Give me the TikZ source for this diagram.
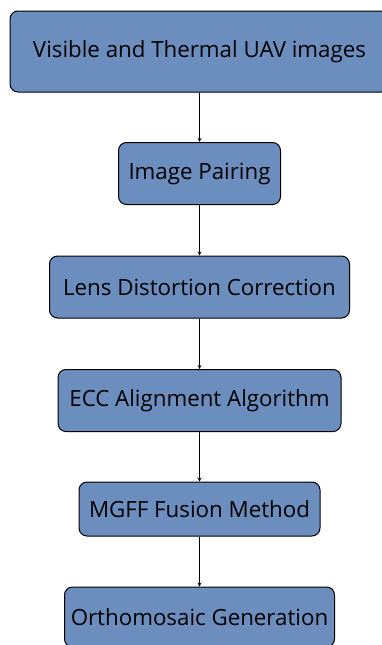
\documentclass[tikz,border=0pt]{standalone}
\usepackage{fontspec}
\setmainfont{Open Sans}
\usetikzlibrary{shapes.geometric, arrows}
\definecolor{stageblue}{HTML}{6C8EBF}
\tikzstyle{stage} = [rectangle, rounded corners=8pt, minimum height=62pt, text centered, draw=black, line width=1pt, fill=stageblue, font=\fontsize{22.3}{26}\selectfont]
\tikzstyle{arrow} = [line width=0.8pt,->,>=stealth]

\begin{document}
\begin{tikzpicture}[node distance=113.5pt]
		\useasboundingbox (0,0) rectangle (382pt,-645pt);
		\node (input) [stage, minimum width=379pt, minimum height=81pt] at (199.5pt,-51.5pt) {Visible and Thermal UAV images};
		\node (pair) [stage, minimum width=162pt, below of=input, yshift=-8.5pt] {Image Pairing};
		\node (lens) [stage, minimum width=300pt, below of=pair] {Lens Distortion Correction};
		\node (ecc) [stage, minimum width=283pt, below of=lens] {ECC Alignment Algorithm};
		\node (mgff) [stage, minimum width=241pt, minimum height=54pt, below of=ecc, yshift=5pt] {MGFF Fusion Method};
		\node (ortho) [stage, minimum width=270pt, minimum height=60pt, below of=mgff, yshift=5.5pt] {Orthomosaic Generation};
	
		% Pipeline
		\draw [arrow] (input) -- (pair);
		\draw [arrow] (pair) -- (lens);
		\draw [arrow] (lens) -- (ecc);
		\draw [arrow] (ecc) -- (mgff);
		\draw [arrow] (mgff) -- (ortho);
	\end{tikzpicture}
\end{document}
